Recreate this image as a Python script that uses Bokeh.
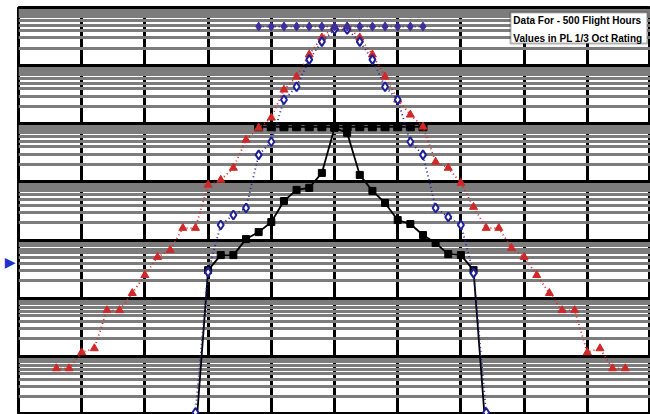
from bokeh.plotting import figure
from bokeh.models import Range1d, FixedTicker, BoxAnnotation, Label
from bokeh.embed import file_html
from bokeh.resources import INLINE

# ---- data (x = band index, y = level, log scale) ----
red_x = list(range(6, 98, 2))
red_y = [0.0062, 0.0062, 0.0117, 0.0137, 0.062, 0.062, 0.122, 0.249, 0.509, 0.673,
         1.61, 1.61, 8.9, 10.8, 17.4, 53, 85, 127, 385, 646,
         1549, 3040, 4700, 4700, 3040, 1549, 646, 259, 143, 89,
         22.1, 17.4, 9.6, 3.7, 1.61, 1.61, 0.73, 0.51, 0.249, 0.122,
         0.062, 0.062, 0.0117, 0.0137, 0.0062, 0.0062]

blue_x = list(range(28, 76, 2))
blue_y = [0.00108, 0.281, 1.82, 2.70, 3.56, 29.2, 49, 259, 434, 1268,
          2590, 4180, 4180, 2590, 1268, 434, 259, 49, 29.2, 3.56,
          2.49, 1.82, 0.270, 0.00108]

black_x = list(range(28, 76, 2))
black_y = [0.0004, 0.304, 0.551, 0.551, 1.04, 1.37, 2.04, 4.7, 7.3, 7.9,
           14.3, 85, 70, 13.2, 7.0, 4.35, 2.21, 1.89, 1.22, 0.887,
           0.574, 0.551, 0.304, 0.0004]

top_x = list(range(38, 66, 2))
top_y = [4700, 4700, 4700, 4700, 4700, 4700, 4700, 4700, 4700, 4700, 4700, 4700, 4700, 4700]

mid_x = list(range(38, 66, 2))
mid_y = [89, 89, 89, 89, 89, 89, 89, 89, 89, 89, 89, 89, 89, 89]

x_major = [0, 10, 20, 30, 40, 50, 60, 70, 80, 90, 100]
y_major = [1e-3, 1e-2, 1e-1, 1, 10, 100, 1000, 1e4]
y_minor = [m * 10.0 ** k for k in range(-3, 4) for m in range(2, 10)]

arrow_level = 0.418
note_lines = ["Data For - 500 Flight Hours", "Values in PL 1/3 Oct Rating"]

# ---- figure ----
p = figure(width=650, height=414, y_axis_type="log",
           x_range=Range1d(0, 100), y_range=Range1d(1e-3, 1e4),
           output_backend="svg", toolbar_location=None,
           min_border_left=18, min_border_right=0, min_border_top=7, min_border_bottom=0)
p.xaxis.visible = False

# left axis only carries the blue reference arrow
p.yaxis.ticker = FixedTicker(ticks=[arrow_level], minor_ticks=[])
p.yaxis.major_label_overrides = {arrow_level: "\u25B6"}
p.yaxis.major_label_text_color = "#2030d0"
p.yaxis.major_label_text_font = "DejaVu Sans"
p.yaxis.major_label_text_font_size = "14px"
p.yaxis.major_label_standoff = 3
p.yaxis.major_tick_out = 0
p.yaxis.major_tick_in = 0
p.yaxis.minor_tick_out = 0
p.yaxis.minor_tick_in = 0
p.yaxis.axis_line_color = None

p.background_fill_color = "white"
p.border_fill_color = "white"
p.outline_line_color = "black"
p.outline_line_width = 3

p.xgrid.ticker = FixedTicker(ticks=x_major, minor_ticks=[])
p.xgrid.grid_line_color = "black"
p.xgrid.grid_line_width = 3
p.xgrid.grid_line_alpha = 1

p.ygrid.ticker = FixedTicker(ticks=y_major, minor_ticks=y_minor)
p.ygrid.grid_line_color = "black"
p.ygrid.grid_line_width = 3
p.ygrid.grid_line_alpha = 1
p.ygrid.minor_grid_line_color = "#7c7c7c"
p.ygrid.minor_grid_line_width = 3
p.ygrid.minor_grid_line_alpha = 1
p.ygrid.level = "underlay"
p.xgrid.level = "image"

RED = "#d02828"
BLUE = "#1f1f9a"
PURP = "#3f2f9c"

# black series
p.line(black_x, black_y, color="black", line_width=1.8)
p.scatter(black_x, black_y, marker="square", size=7, color="black")
p.line(mid_x, mid_y, color="black", line_width=1.8)
p.scatter(mid_x, mid_y, marker="square", size=8, color="black")

# red series
p.line(red_x, red_y, color=RED, line_width=1.8, line_dash="1 3")
p.scatter(red_x, red_y, marker="triangle", size=8, color=RED)

# blue series
p.line(blue_x, blue_y, color=BLUE, line_width=1.8, line_dash="1 3")
p.scatter(blue_x, blue_y, marker="diamond", size=9, line_color=BLUE,
          fill_color="white", line_width=2)

# top row
p.line(top_x, top_y, color=PURP, line_width=1.8, line_dash="1 3")
p.scatter(top_x, top_y, marker="diamond", size=9, color=PURP)

# note box
p.add_layout(BoxAnnotation(left=77.85, right=99.5, top=8200, bottom=2400,
                           fill_color="white", fill_alpha=1,
                           line_color="black", line_width=2, level="overlay"))
p.add_layout(Label(x=78.3, y=5975, text=note_lines[0], text_font="Liberation Sans",
                   text_font_style="bold", text_font_size="10px", text_color="black",
                   text_baseline="middle", level="overlay"))
p.add_layout(Label(x=78.3, y=2930, text=note_lines[1], text_font="Liberation Sans",
                   text_font_style="bold", text_font_size="10px", text_color="black",
                   text_baseline="middle", level="overlay"))

open("out.html", "w").write(file_html(p, INLINE))
